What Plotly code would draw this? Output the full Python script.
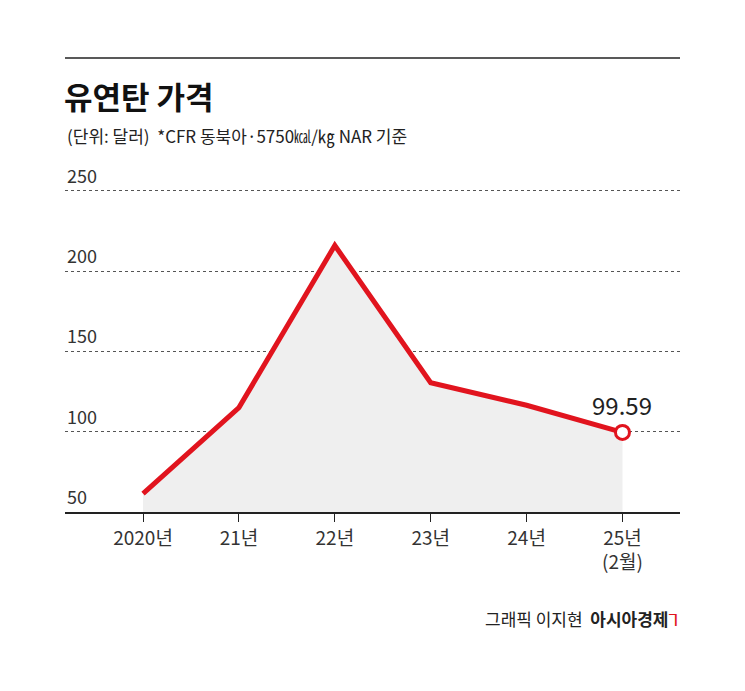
import plotly.graph_objects as go

years = ["2020년", "21년", "22년", "23년", "24년", "25년<br>(2월)"]
prices = [61.5, 115, 216, 130.5, 116.5, 99.59]
y_ticks = [50, 100, 150, 200, 250]

FONT = "Noto Sans CJK KR"
RED = "#e1141e"

# plot area in pixels (page offset of ~8px accounted for)
H_TOP, H_BOT = 162, 504
def py(pix):
    return (H_BOT - pix) / (H_BOT - H_TOP)

fig = go.Figure()
fig.add_trace(go.Scatter(
    x=list(range(len(years))), y=prices, mode="lines",
    line=dict(color=RED, width=5), fill="tozeroy", fillcolor="#efefef",
    hoverinfo="skip"))
fig.add_trace(go.Scatter(
    x=[len(years) - 1], y=[prices[-1]], mode="markers",
    marker=dict(size=14, color="white", line=dict(color=RED, width=3)),
    hoverinfo="skip"))

fig.add_annotation(x=len(years) - 1, y=prices[-1], text=f"{prices[-1]:.2f}",
                   showarrow=False, yshift=28, font=dict(size=24, color="#222", family=FONT))

# y tick labels sit just above their gridlines
for v in y_ticks:
    fig.add_annotation(xref="paper", yref="y", x=0, y=v, xanchor="left", yanchor="bottom",
                       text=str(v), showarrow=False, yshift=1,
                       font=dict(size=18, color="#333", family=FONT))

fig.add_shape(type="line", xref="paper", yref="paper", x0=0, x1=1, y0=py(50), y1=py(50),
              line=dict(color="#222", width=1.5))
fig.add_annotation(xref="paper", yref="paper", x=-0.005, y=py(87), xanchor="left", yanchor="middle",
                   text="<b>유연탄 가격</b>", showarrow=False,
                   font=dict(size=31, color="#111", family=FONT))
fig.add_annotation(xref="paper", yref="paper", x=0, y=py(127), xanchor="left", yanchor="middle",
                   text="(단위: 달러)  *CFR 동북아·5750㎉/㎏ NAR 기준", showarrow=False,
                   font=dict(size=17, color="#222", family=FONT))
fig.add_annotation(xref="paper", yref="paper", x=1, y=py(610), xanchor="right", yanchor="middle",
                   text="그래픽 이지현  <b>아시아경제</b><span style='color:#e1141e'>ᒣ</span>",
                   showarrow=False, font=dict(size=17, color="#222", family=FONT))

fig.update_layout(
    width=745, height=691, margin=dict(l=57, r=73, t=H_TOP, b=691 - H_BOT),
    paper_bgcolor="white", plot_bgcolor="white", showlegend=False,
    font=dict(family=FONT),
    xaxis=dict(range=[-0.814, 5.6], tickvals=list(range(len(years))), ticktext=years,
               showgrid=False, zeroline=False, showline=True, linecolor="#222", linewidth=1.5,
               ticks="outside", ticklen=8, tickcolor="#222",
               tickfont=dict(size=19, color="#333")),
    yaxis=dict(range=[50, 263], tickvals=y_ticks, showticklabels=False,
               showgrid=True, gridcolor="#555", griddash="dot", gridwidth=1,
               zeroline=False, showline=False),
)
fig.write_html("out.html")
